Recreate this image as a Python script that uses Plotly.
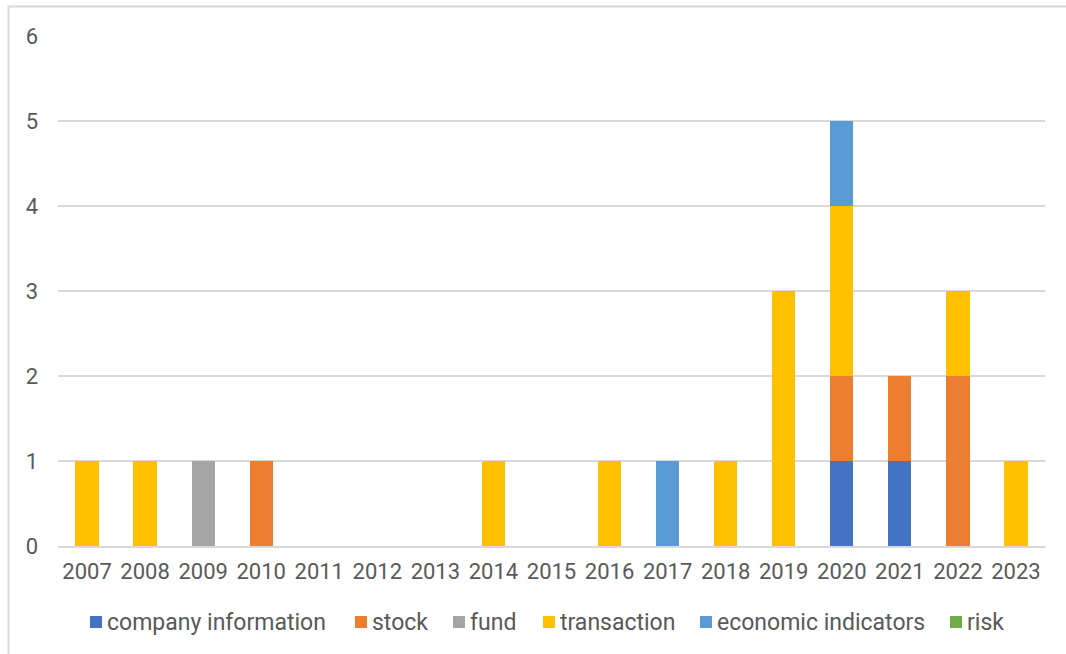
import plotly.graph_objects as go

years = [str(y) for y in range(2007, 2024)]

company_information = [0, 0, 0, 0, 0, 0, 0, 0, 0, 0, 0, 0, 0, 1, 1, 0, 0]
stock               = [0, 0, 0, 1, 0, 0, 0, 0, 0, 0, 0, 0, 0, 1, 1, 2, 0]
fund                = [0, 0, 1, 0, 0, 0, 0, 0, 0, 0, 0, 0, 0, 0, 0, 0, 0]
transaction         = [1, 1, 0, 0, 0, 0, 0, 1, 0, 1, 0, 1, 3, 2, 0, 1, 1]
economic_indicators = [0, 0, 0, 0, 0, 0, 0, 0, 0, 0, 1, 0, 0, 1, 0, 0, 0]
risk                = [0, 0, 0, 0, 0, 0, 0, 0, 0, 0, 0, 0, 0, 0, 0, 0, 0]

series_names = ["company information", "stock", "fund", "transaction",
                "economic indicators", "risk"]
series_values = [company_information, stock, fund, transaction,
                 economic_indicators, risk]
series_colors = ["#4472C4", "#ED7D31", "#A5A5A5", "#FFC000", "#5B9BD5", "#70AD47"]

FONT = "Roboto, Noto Sans, sans-serif"
TXT = "#595959"
FS = 22
LEG_FS = 23

W, H = 1066, 654
ML, MR, MT, MB = 58, 21, 36, 108
PW, PH = W - ML - MR, H - MT - MB


def px_x(p):
    """Page pixel x -> paper fraction."""
    return (p - ML) / PW


def px_y(p):
    """Page pixel y -> paper fraction."""
    return (H - MB - p) / PH


fig = go.Figure()
for name, vals, color in zip(series_names, series_values, series_colors):
    fig.add_trace(go.Bar(
        x=years, y=vals, name=name, showlegend=False,
        marker=dict(color=color, line=dict(width=0)),
    ))

# legend row drawn below the plot: swatch left edges (page px)
legend_left = [90, 355, 453, 543, 700, 950]
legend_row_y = 622
swatch = 12

shapes = [dict(
    type="rect", xref="paper", yref="paper",
    x0=px_x(8.5), x1=1.1, y0=-0.3, y1=px_y(6.5),
    line=dict(color="#D9D9D9", width=2), fillcolor="rgba(0,0,0,0)", layer="below",
)]
annotations = []
for name, color, left in zip(series_names, series_colors, legend_left):
    shapes.append(dict(
        type="rect", xref="paper", yref="paper",
        x0=px_x(left), x1=px_x(left + swatch),
        y0=px_y(legend_row_y + swatch / 2), y1=px_y(legend_row_y - swatch / 2),
        line=dict(width=0), fillcolor=color,
    ))
    annotations.append(dict(
        text=name, xref="paper", yref="paper",
        x=px_x(left + swatch + 3), y=px_y(legend_row_y),
        xanchor="left", yanchor="middle", showarrow=False,
        font=dict(family=FONT, size=LEG_FS, color=TXT),
    ))

fig.update_layout(
    barmode="stack",
    bargap=0.6,
    width=W, height=H,
    margin=dict(l=ML, r=MR, t=MT, b=MB),
    paper_bgcolor="white",
    plot_bgcolor="white",
    font=dict(family=FONT, size=FS, color=TXT),
    showlegend=False,
    xaxis=dict(
        type="category", range=[-0.5, 16.5],
        showgrid=False, showline=True, linecolor="#D9D9D9", linewidth=2,
        ticks="", tickfont=dict(size=FS, color=TXT), ticklabelstandoff=5,
    ),
    yaxis=dict(
        range=[0, 6], dtick=1, tick0=0,
        showgrid=True, gridcolor="#D9D9D9", gridwidth=2,
        zeroline=False, showline=False, ticks="",
        tickfont=dict(size=FS, color=TXT), ticklabelstandoff=19,
    ),
    shapes=shapes,
    annotations=annotations,
)

fig.write_html("out.html")
